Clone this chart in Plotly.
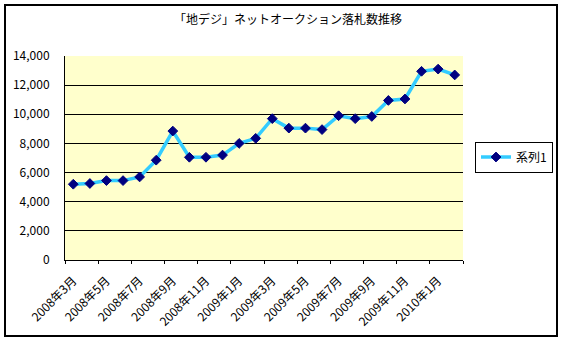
import plotly.graph_objects as go

# ---- data ----
months = [
    "2008年3月", "2008年4月", "2008年5月", "2008年6月", "2008年7月", "2008年8月",
    "2008年9月", "2008年10月", "2008年11月", "2008年12月", "2009年1月", "2009年2月",
    "2009年3月", "2009年4月", "2009年5月", "2009年6月", "2009年7月", "2009年8月",
    "2009年9月", "2009年10月", "2009年11月", "2009年12月", "2010年1月", "2010年2月",
]
counts = [
    5200, 5250, 5450, 5450, 5700, 6850,
    8850, 7050, 7050, 7200, 8000, 8350,
    9700, 9050, 9050, 8950, 9900, 9700,
    9850, 10950, 11050, 12950, 13100, 12700,
]
y_ticks = [0, 2000, 4000, 6000, 8000, 10000, 12000, 14000]
series_name = "系列1"
title_text = "「地デジ」ネットオークション落札数推移"

# ---- layout constants (pixels) ----
W, H = 562, 342
L, R, T, B = 65, 463, 56, 260
pw, ph = R - L, B - T

FONT = "Noto Sans CJK JP, Liberation Sans, sans-serif"

fig = go.Figure()
fig.add_trace(go.Scatter(
    x=months, y=counts, name=series_name, mode="lines+markers",
    line=dict(color="#33CCFF", width=3.5),
    marker=dict(symbol="diamond", color="#000080", size=7.5,
                line=dict(color="#000080", width=1)),
))

n = len(months)
boundary_ticks = [i - 0.5 for i in range(0, n + 1, 2)]

fig.update_layout(
    width=W, height=H,
    margin=dict(l=L, r=W - R, t=T, b=H - B, pad=0, autoexpand=False),
    paper_bgcolor="white",
    plot_bgcolor="#FFFFCC",
    font=dict(family=FONT, size=11, color="black"),
    title=dict(text=title_text, x=288 / W, xanchor="center",
               y=1 - 20 / H, yanchor="middle", yref="container",
               font=dict(size=12, color="black", family=FONT)),
    showlegend=True,
    legend=dict(x=(553 - L) / pw, xanchor="right",
                y=(B - 157) / ph, yanchor="middle",
                bordercolor="black", borderwidth=1, bgcolor="white",
                font=dict(size=12, family=FONT),
                itemwidth=30, tracegroupgap=0),
    xaxis=dict(
        type="category", range=[-0.5, n - 0.5],
        tickvals=months[::2], ticktext=months[::2],
        tickangle=-45, ticks="", showgrid=False,
        showline=True, linecolor="black", linewidth=1,
        tickfont=dict(size=12, family=FONT),
        ticklabelstandoff=8,
        zeroline=False,
    ),
    xaxis2=dict(
        type="linear", overlaying="x", anchor="y", side="bottom",
        range=[-0.5, n - 0.5], tickvals=boundary_ticks,
        ticks="outside", ticklen=3, tickcolor="black", tickwidth=1,
        showticklabels=False, showgrid=False, showline=False, zeroline=False,
    ),
    yaxis=dict(
        range=[0, 14000], tickvals=y_ticks, tickformat=",d",
        showgrid=True, gridcolor="black", gridwidth=1,
        showline=True, linecolor="black", linewidth=1,
        ticks="", ticklabelstandoff=12, zeroline=False,
        tickfont=dict(size=12, family=FONT),
    ),
    shapes=[dict(
        type="rect", xref="paper", yref="paper",
        x0=(5 - L) / pw, x1=(557 - L) / pw,
        y0=(B - 336) / ph, y1=(B - 5) / ph,
        line=dict(color="black", width=2), fillcolor="rgba(0,0,0,0)",
        layer="above",
    )],
)

fig.add_trace(go.Scatter(x=[boundary_ticks[0], boundary_ticks[-1]], y=[None, None],
                         xaxis="x2", yaxis="y", mode="lines", showlegend=False,
                         hoverinfo="skip"))

fig.write_html("out.html")
